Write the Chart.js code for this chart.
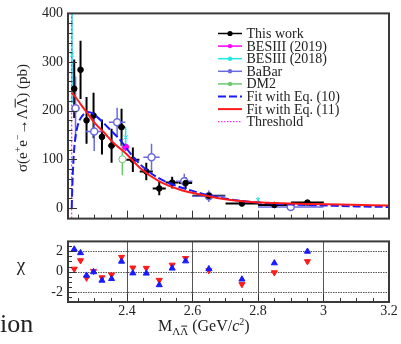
<!DOCTYPE html>
<html>
<head>
<meta charset="utf-8">
<script src="https://cdn.jsdelivr.net/npm/chart.js@4.4.0/dist/chart.umd.min.js"></script>
<style>
html, body {margin: 0; padding: 0; background: #fff; width: 401px; height: 344px; overflow: hidden;}
canvas {position: absolute; left: 0;}
#top {top: 0;}
#bottom {top: 228px;}
#ion {position: absolute; left: 0; top: 311px; font: 26px "Liberation Serif"; line-height: 26px; color: #222; z-index: 2;}
</style>
</head>
<body>
<canvas id="top" width="401" height="232"></canvas>
<canvas id="bottom" width="401" height="116"></canvas>
<div id="ion">ion</div>
<script>
// Data: this work
const massThisWork = [2.239, 2.2583, 2.2766, 2.298, 2.3237, 2.353, 2.3835, 2.418, 2.459, 2.4986, 2.538, 2.579, 2.65, 2.751, 2.85, 2.951];
const binThisWork = [0.004, 0.004, 0.004, 0.004, 0.008, 0.01, 0.01, 0.02, 0.02, 0.02, 0.02, 0.02, 0.05, 0.05, 0.05, 0.05];
const sigmaThisWork = [245, 284, 180, 190, 146, 128, 166, 99, 75, 40, 52, 51, 25, 9, 6, 11];
const errThisWork = [60, 60, 48, 47, 36, 35, 38, 25, 18, 14, 12, 12, 6, 4, 3, 4];

// Data: other experiments
const massBes2019 = [2.396];
const sigmaBes2019 = [125];
const errBes2019 = [8];

const massBes2018 = [2.2324, 2.396, 2.80];
const sigmaBes2018 = [315, 145, 16];
const errBes2018 = [100, 22, 6];

const massBabar = [2.243, 2.300, 2.370, 2.475, 2.575, 2.650, 2.900];
const binBabar = [0.0125, 0.025, 0.025, 0.025, 0.025, 0.05, 0.1];
const sigmaBabar = [205, 157, 176, 104, 55, 24, 2];
const errBabar = [65, 40, 30, 28, 15, 12, 4];

const massDm2 = [2.386];
const sigmaDm2 = [100];
const errDm2 = [33];

// Fit curves
const massFit10 = [2.2314, 2.233, 2.236, 2.240, 2.245, 2.252, 2.26, 2.27, 2.28, 2.29, 2.30, 2.325, 2.35, 2.38, 2.42, 2.46, 2.50, 2.56, 2.60, 2.66, 2.72, 2.80, 2.90, 3.00, 3.10, 3.20];
const sigmaFit10 = [0, 40, 90, 130, 155, 175, 186, 194, 197, 196, 192, 177, 160, 139, 104, 78, 60, 43, 35, 24, 17, 11, 7, 5, 3, 2];
const massFit11 = [2.2314, 2.245, 2.26, 2.28, 2.30, 2.33, 2.36, 2.40, 2.44, 2.50, 2.56, 2.62, 2.68, 2.76, 2.85, 2.95, 3.05, 3.20];
const sigmaFit11 = [237, 226, 212, 194, 176, 155, 133, 110, 82, 54, 38, 28, 20, 13, 10, 8, 7, 5];
const threshold = 2.2314;

// Chi residuals
const chiEq10 = [2.18, 1.83, -0.36, -0.03, -0.85, -0.69, 1.0, -0.14, -0.16, -1.29, 0.33, 1.03, 0.27, -0.74, 0.84, 1.97];
const chiEq11 = [0.27, 1.09, -0.6, 0.05, -0.57, -0.3, 1.42, 0.38, 0.35, -0.82, 0.66, 1.31, 0.13, -1.23, -0.08, 1.0];

// Axes
const xMin = 2.22, xMax = 3.2;
const xTicks = [2.4, 2.6, 2.8, 3.0, 3.2];
const yTicks = [0, 100, 200, 300, 400];
const chiTicks = [-2, 0, 2];

const legendItems = ["This work", "BESIII (2019)", "BESIII (2018)", "BaBar", "DM2", "Fit with Eq. (10)", "Fit with Eq. (11)", "Threshold"];

const FONT = '"Liberation Serif", "Times New Roman", serif';
const BLACK = "#000000", MAGENTA = "#ff00ff", CYAN = "#22e8e8", BABAR = "#6a6ae0", DM2 = "#6cc86c", BLUE = "#1a1aff", RED = "#ff1a1a";

const pts = (xs, ys) => xs.map((x, i) => ({x: x, y: ys[i]}));

// Error bars drawn under the markers
const errorBars = {
    id: "errorBars",
    beforeDatasetsDraw(chart) {
        const {ctx, chartArea: a, scales: {x, y}} = chart;
        ctx.save();
        ctx.beginPath();
        ctx.rect(a.left, a.top, a.width, a.height);
        ctx.clip();
        chart.data.datasets.forEach(ds => {
            if (!ds.errY) return;
            ctx.strokeStyle = ds.borderColor;
            ctx.lineWidth = ds.errWidth;
            ds.data.forEach((p, k) => {
                const px = x.getPixelForValue(p.x), py = y.getPixelForValue(p.y);
                ctx.beginPath();
                ctx.moveTo(px, y.getPixelForValue(p.y - ds.errY[k]));
                ctx.lineTo(px, y.getPixelForValue(p.y + ds.errY[k]));
                if (ds.errX && ds.errX[k]) {
                    ctx.moveTo(x.getPixelForValue(p.x - ds.errX[k]), py);
                    ctx.lineTo(x.getPixelForValue(p.x + ds.errX[k]), py);
                }
                ctx.stroke();
            });
        });
        ctx.restore();
    }
};

const drawRuns = (ctx, runs, x, y, center) => {
    let w = 0;
    runs.forEach(r => {
        ctx.font = (r.it ? "italic " : "") + (r.s || 16) + "px " + FONT;
        r.w = ctx.measureText(r.t).width;
        w += r.w;
    });
    let cx = center ? x - w / 2 : x;
    runs.forEach(r => {
        ctx.font = (r.it ? "italic " : "") + (r.s || 16) + "px " + FONT;
        ctx.fillText(r.t, cx, y + (r.dy || 0));
        if (r.over) ctx.fillRect(cx + 1, y + (r.dy || 0) - (r.s || 16) * 0.72 - 1.5, r.w - 2, 1);
        cx += r.w;
    });
};

const drawTicks = (chart, yMajor, yMinorStep, yLen) => {
    const {ctx, chartArea: a, scales: {x, y}} = chart;
    ctx.save();
    ctx.strokeStyle = "#333";
    ctx.lineWidth = 1;
    ctx.beginPath();
    for (let v = Math.ceil(y.min / yMinorStep) * yMinorStep; v <= y.max + 1e-9; v += yMinorStep) {
        const py = Math.round(y.getPixelForValue(v)) + 0.5;
        const major = yMajor.some(m => Math.abs(m - v) < 1e-6);
        ctx.moveTo(a.left, py);
        ctx.lineTo(a.left + (major ? yLen : yLen / 2), py);
    }
    for (let v = 2.25; v <= xMax + 1e-9; v += 0.05) {
        const px = Math.round(x.getPixelForValue(v)) + 0.5;
        const major = Math.abs(v * 5 - Math.round(v * 5)) < 1e-6;
        ctx.moveTo(px, a.bottom);
        ctx.lineTo(px, a.bottom - (major ? 8 : 4));
    }
    ctx.stroke();
    ctx.strokeStyle = "#3a3a3a";
    ctx.lineWidth = 2;
    ctx.strokeRect(a.left, a.top, a.width, a.height);
    ctx.restore();
};

const topDecor = {
    id: "topDecor",
    afterDraw(chart) {
        const ctx = chart.ctx;
        drawTicks(chart, yTicks, 20, 9);
        ctx.save();
        ctx.fillStyle = "#222";
        ctx.textBaseline = "alphabetic";
        // legend
        const colors = [BLACK, MAGENTA, CYAN, BABAR, DM2, BLUE, RED, MAGENTA];
        legendItems.forEach((label, i) => {
            const ly = 33.5 + 12.6 * i;
            ctx.strokeStyle = colors[i];
            ctx.fillStyle = colors[i];
            ctx.lineWidth = i < 5 ? 1.5 : 2;
            ctx.setLineDash(i === 5 ? [8, 3] : i === 7 ? [1.5, 1.5] : []);
            if (i === 7) ctx.lineWidth = 1;
            ctx.beginPath();
            ctx.moveTo(218, ly);
            ctx.lineTo(242, ly);
            ctx.stroke();
            ctx.setLineDash([]);
            if (i < 5) {
                ctx.beginPath();
                ctx.arc(230, ly, i === 0 ? 2.6 : 2.2, 0, Math.PI * 2);
                ctx.fill();
            }
            ctx.fillStyle = "#222";
            ctx.font = "14px " + FONT;
            ctx.fillText(label, 246.5, ly + 4.5);
        });
        // y title
        ctx.translate(27, 118);
        ctx.rotate(-Math.PI / 2);
        drawRuns(ctx, [
            {t: "σ(e", s: 15}, {t: "+", s: 10, dy: -6}, {t: "e", s: 15}, {t: "−", s: 10, dy: -6},
            {t: "→Λ", s: 15}, {t: "Λ", s: 15, over: true}, {t: ") (pb)", s: 15}
        ], 0, 0, true);
        ctx.restore();
    }
};

const bottomDecor = {
    id: "bottomDecor",
    beforeDatasetsDraw(chart) {
        const {ctx, chartArea: a, scales: {x, y}} = chart;
        ctx.save();
        ctx.strokeStyle = "#555";
        ctx.lineWidth = 1;
        ctx.beginPath();
        [2.4, 2.6, 2.8, 3.0].forEach(v => {
            const px = Math.round(x.getPixelForValue(v)) + 0.5;
            ctx.moveTo(px, a.top);
            ctx.lineTo(px, a.bottom);
        });
        ctx.stroke();
        ctx.setLineDash([1.5, 1]);
        ctx.beginPath();
        chiTicks.forEach(v => {
            const py = Math.round(y.getPixelForValue(v)) + 0.5;
            ctx.moveTo(a.left, py);
            ctx.lineTo(a.right, py);
        });
        ctx.stroke();
        ctx.restore();
    },
    afterDraw(chart) {
        const ctx = chart.ctx;
        drawTicks(chart, chiTicks, 0.5, 8);
        ctx.save();
        ctx.fillStyle = "#222";
        ctx.textBaseline = "alphabetic";
        ctx.font = "19px " + FONT;
        ctx.textAlign = "center";
        ctx.fillText("χ", 21, 43);
        ctx.textAlign = "left";
        drawRuns(ctx, [
            {t: "M"}, {t: "Λ", s: 11, dy: 4}, {t: "Λ", s: 11, dy: 4, over: true},
            {t: " (GeV/"}, {t: "c", it: true}, {t: "2", s: 10, dy: -6}, {t: ")"}
        ], 158, 103, false);
        ctx.restore();
    }
};

const commonX = (display) => ({
    type: "linear",
    min: xMin,
    max: xMax,
    display: display,
    grid: {display: false, drawTicks: false},
    border: {display: false},
    afterBuildTicks: s => { s.ticks = xTicks.map(v => ({value: v})); },
    afterFit: s => { if (display) s.height = 42; },
    ticks: {
        padding: 1,
        color: "#222",
        font: {family: FONT, size: 14},
        callback: v => (v === 3 ? "3" : v.toFixed(1))
    }
});

const commonY = (min, max, ticks) => ({
    type: "linear",
    min: min,
    max: max,
    grid: {display: false, drawTicks: false},
    border: {display: false},
    afterBuildTicks: s => { s.ticks = ticks.map(v => ({value: v})); },
    afterFit: s => { s.width = 68; },
    ticks: {padding: 5, color: "#222", font: {family: FONT, size: 14}}
});

const pointSet = (label, xs, ys, errs, bins, color, opts) => Object.assign({
    type: "scatter",
    label: label,
    data: pts(xs, ys),
    errY: errs,
    errX: bins,
    errWidth: 1.5,
    borderColor: color,
    backgroundColor: color,
    pointRadius: 2.5,
    pointBorderWidth: 1,
    showLine: false
}, opts || {});

new Chart(document.querySelector("#top"), {
    type: "scatter",
    data: {
        datasets: [
            {type: "line", label: "Fit with Eq. (11)", data: pts(massFit11, sigmaFit11), borderColor: RED, borderWidth: 2, pointRadius: 0, cubicInterpolationMode: "monotone", order: 0},
            {type: "line", label: "Fit with Eq. (10)", data: pts(massFit10, sigmaFit10), borderColor: BLUE, borderWidth: 2, borderDash: [8, 3], pointRadius: 0, cubicInterpolationMode: "monotone", order: 1},
            pointSet("This work", massThisWork, sigmaThisWork, errThisWork, binThisWork, BLACK, {errWidth: 2, pointRadius: 2.8, order: 2}),
            pointSet("BESIII (2019)", massBes2019, sigmaBes2019, errBes2019, null, MAGENTA, {pointRadius: 3, order: 3}),
            pointSet("DM2", massDm2, sigmaDm2, errDm2, null, DM2, {backgroundColor: "#fff", pointRadius: 3.5, order: 4}),
            pointSet("BaBar", massBabar, sigmaBabar, errBabar, binBabar, BABAR, {backgroundColor: "#fff", pointRadius: 3.5, pointBorderWidth: 1.5, order: 5}),
            pointSet("BESIII (2018)", massBes2018, sigmaBes2018, errBes2018, null, CYAN, {pointStyle: "crossRot", pointRadius: 3, errWidth: 1.5, order: 6}),
            {type: "line", label: "Threshold", data: [{x: threshold, y: -30}, {x: threshold, y: 400}], borderColor: MAGENTA, borderWidth: 1, borderDash: [2, 2], pointRadius: 0, order: 7}
        ]
    },
    options: {
        responsive: false,
        animation: false,
        layout: {padding: {top: 11, right: 12, bottom: 4, left: 0}},
        plugins: {legend: {display: false}, tooltip: {enabled: false}},
        scales: {
            x: commonX(false),
            y: commonY(-22, 400, yTicks)
        }
    },
    plugins: [errorBars, topDecor]
});

new Chart(document.querySelector("#bottom"), {
    type: "scatter",
    data: {
        datasets: [
            {label: "Eq. (10)", data: pts(massThisWork, chiEq10), pointStyle: "triangle", pointRadius: 3.5, borderColor: BLUE, backgroundColor: BLUE, borderWidth: 1},
            {label: "Eq. (11)", data: pts(massThisWork, chiEq11), pointStyle: "triangle", rotation: 180, pointRadius: 3.5, borderColor: RED, backgroundColor: RED, borderWidth: 1}
        ]
    },
    options: {
        responsive: false,
        animation: false,
        layout: {padding: {top: 4, right: 12, bottom: 0, left: 0}},
        plugins: {legend: {display: false}, tooltip: {enabled: false}},
        scales: {
            x: commonX(true),
            y: commonY(-2.95, 2.95, chiTicks)
        }
    },
    plugins: [bottomDecor]
});
</script>
</body>
</html>
